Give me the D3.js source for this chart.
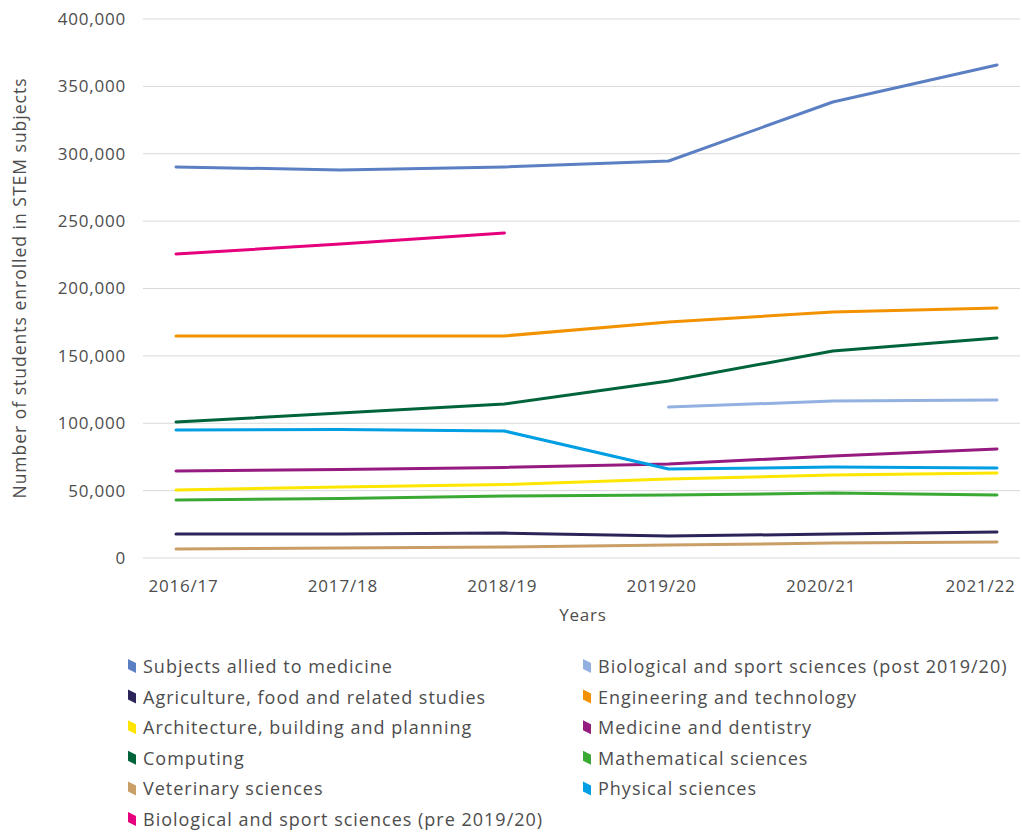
<!DOCTYPE html>
<html>
<head>
<meta charset="utf-8">
<script src="https://cdn.jsdelivr.net/npm/d3@7"></script>
<style>
body { margin: 0; background: #fff; }
text { font-family: "Open Sans", Lato, sans-serif; fill: #4d4d4d; }
</style>
</head>
<body>
<script>
const years = ["2016/17", "2017/18", "2018/19", "2019/20", "2020/21", "2021/22"];
const yTicks = [0, 50000, 100000, 150000, 200000, 250000, 300000, 350000, 400000];

const seriesNames = [
  "Subjects allied to medicine",
  "Biological and sport sciences (post 2019/20)",
  "Agriculture, food and related studies",
  "Engineering and technology",
  "Architecture, building and planning",
  "Medicine and dentistry",
  "Computing",
  "Mathematical sciences",
  "Veterinary sciences",
  "Physical sciences",
  "Biological and sport sciences (pre 2019/20)"
];
const seriesColors = ["#5b7fc3", "#93b1e0", "#2b2458", "#f39200", "#ffe600", "#951b81",
  "#00643a", "#3aaa35", "#c99e67", "#009fe3", "#e6007e"];

const alliedMedicine = [290200, 288000, 290200, 294600, 338400, 365900];
const bioPost = [null, null, null, 112000, 116500, 117200];
const agriculture = [17800, 17800, 18500, 16300, 17800, 19300];
const engineering = [164800, 164800, 164800, 175100, 182600, 185500];
const architecture = [50500, 52700, 54500, 58600, 61600, 63100];
const medicine = [64600, 65700, 67200, 69800, 75700, 80900];
const computing = [100900, 107600, 114300, 131400, 153600, 163300];
const maths = [43000, 44100, 46000, 46700, 48200, 46700];
const veterinary = [6700, 7400, 8200, 9600, 11100, 11900];
const physical = [95000, 95400, 94200, 66000, 67500, 66800];
const bioPre = [225600, 233000, 241200, null, null, null];

const seriesValues = [alliedMedicine, bioPost, agriculture, engineering, architecture, medicine,
  computing, maths, veterinary, physical, bioPre];

const w = 1022, h = 832;
const svg = d3.select("body").append("svg").attr("width", w).attr("height", h);

const x = d3.scalePoint().domain(years).range([176, 997]);
// tick labels sit a little inside the first/last points in the original
const xLabel = d3.scalePoint().domain(years).range([183, 980]);
const y = d3.scaleLinear().domain([0, 400000]).range([558, 19]);

// gridlines
svg.append("g")
  .selectAll("line")
  .data(yTicks)
  .enter()
  .append("line")
  .attr("x1", 143).attr("x2", 1020)
  .attr("y1", d => y(d)).attr("y2", d => y(d))
  .attr("stroke", "#d9d9d9").attr("stroke-width", 1);

const yAxis = svg.append("g")
  .attr("transform", "translate(126,0)")
  .call(d3.axisLeft(y).tickValues(yTicks).tickSize(0).tickFormat(d3.format(",")));
yAxis.select(".domain").remove();
yAxis.selectAll("text").style("font-size", "17px").style("letter-spacing", "0.8px").attr("x", 0);

const xAxis = svg.append("g")
  .attr("transform", "translate(0,558)")
  .call(d3.axisBottom(xLabel).tickSize(0));
xAxis.select(".domain").remove();
xAxis.selectAll("text").style("font-size", "17px").style("letter-spacing", "0.8px")
  .attr("dy", 0).attr("y", 34);

svg.append("text")
  .attr("x", 583).attr("y", 621)
  .attr("text-anchor", "middle")
  .style("font-size", "17px").style("letter-spacing", "0.8px")
  .text("Years");

svg.append("text")
  .attr("transform", "translate(26,288) rotate(-90)")
  .attr("text-anchor", "middle")
  .style("font-size", "17.5px").style("letter-spacing", "1px")
  .text("Number of students enrolled in STEM subjects");

const line = d3.line()
  .defined(d => d != null)
  .x((d, i) => x(years[i]))
  .y(d => y(d));

seriesValues.forEach((vals, i) => {
  svg.append("path")
    .datum(vals)
    .attr("fill", "none")
    .attr("stroke", seriesColors[i])
    .attr("stroke-width", 3)
    .attr("stroke-linejoin", "round")
    .attr("stroke-linecap", "round")
    .attr("d", line);
});

// legend
const legend = svg.append("g");
seriesNames.forEach((name, i) => {
  const col = i % 2;
  const row = Math.floor(i / 2);
  const lx = col === 0 ? 128 : 583;
  const ly = 667 + row * 30.6;
  legend.append("polygon")
    .attr("points", `${lx},${ly - 8} ${lx + 8},${ly - 4} ${lx + 8},${ly + 6} ${lx},${ly + 2}`)
    .attr("fill", seriesColors[i]);
  legend.append("text")
    .attr("x", lx + 15).attr("y", ly + 6)
    .style("font-size", "18px").style("letter-spacing", "1px")
    .text(name);
});
</script>
</body>
</html>
